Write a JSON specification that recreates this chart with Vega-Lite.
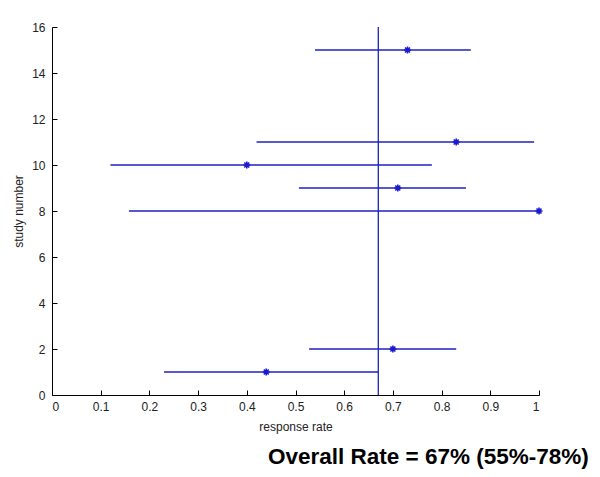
{
  "$schema": "https://vega.github.io/schema/vega-lite/v6.json",
  "width": 487,
  "height": 368,
  "autosize": {"type": "none"},
  "padding": {"left": 52, "top": 27, "right": 61, "bottom": 82},
  "background": "white",
  "config": {"view": {"stroke": null}, "font": "Liberation Sans"},
  "title": {
    "text": "Overall Rate = 67% (55%-78%)",
    "orient": "bottom",
    "anchor": "end",
    "dx": 43,
    "offset": 14,
    "fontSize": 22.5,
    "fontWeight": "bold",
    "font": "Liberation Sans",
    "color": "black"
  },
  "datasets": {
    "studies": [
      {"study": 15, "rate": 0.73, "lo": 0.54, "hi": 0.86},
      {"study": 11, "rate": 0.83, "lo": 0.42, "hi": 0.99},
      {"study": 10, "rate": 0.40, "lo": 0.12, "hi": 0.78},
      {"study": 9, "rate": 0.71, "lo": 0.507, "hi": 0.85},
      {"study": 8, "rate": 1.0, "lo": 0.158, "hi": 1.0},
      {"study": 2, "rate": 0.70, "lo": 0.528, "hi": 0.83},
      {"study": 1, "rate": 0.44, "lo": 0.23, "hi": 0.67}
    ],
    "overall": [{"rate": 0.67, "y0": 0, "y1": 16}]
  },
  "layer": [
    {
      "data": {"name": "studies"},
      "mark": {"type": "rule", "color": "#2020c0", "strokeWidth": 1.3},
      "encoding": {
        "x": {
          "field": "lo", "type": "quantitative",
          "scale": {"domain": [0, 1], "nice": false},
          "axis": {
            "title": "response rate",
            "values": [0, 0.1, 0.2, 0.3, 0.4, 0.5, 0.6, 0.7, 0.8, 0.9, 1],
            "format": ".1~f",
            "grid": false,
            "domainColor": "black",
            "tickColor": "black",
            "tickSize": -5,
            "labelPadding": 11,
            "labelFontSize": 12,
            "labelColor": "#222",
            "titleFontSize": 12,
            "titleFontWeight": "normal",
            "titleColor": "#222",
            "titlePadding": 9
          }
        },
        "x2": {"field": "hi"},
        "y": {
          "field": "study", "type": "quantitative",
          "scale": {"domain": [0, 16], "nice": false},
          "axis": {
            "title": "study number",
            "values": [0, 2, 4, 6, 8, 10, 12, 14, 16],
            "format": "d",
            "grid": false,
            "domainColor": "black",
            "tickColor": "black",
            "tickSize": -5,
            "labelPadding": 12,
            "labelFontSize": 12,
            "labelColor": "#222",
            "titleFontSize": 12,
            "titleFontWeight": "normal",
            "titleColor": "#222",
            "titlePadding": 6
          }
        }
      }
    },
    {
      "data": {"name": "studies"},
      "mark": {
        "type": "point",
        "shape": "M-1,0L1,0M0,-1L0,1M-0.7,-0.7L0.7,0.7M-0.7,0.7L0.7,-0.7",
        "filled": false,
        "color": "#1a1ad0",
        "size": 50,
        "strokeWidth": 1.6,
        "opacity": 1
      },
      "encoding": {
        "x": {"field": "rate", "type": "quantitative"},
        "y": {"field": "study", "type": "quantitative"}
      }
    },
    {
      "data": {"name": "overall"},
      "mark": {"type": "rule", "color": "#2020c0", "strokeWidth": 1.3},
      "encoding": {
        "x": {"field": "rate", "type": "quantitative"},
        "y": {"field": "y0", "type": "quantitative"},
        "y2": {"field": "y1"}
      }
    }
  ]
}
